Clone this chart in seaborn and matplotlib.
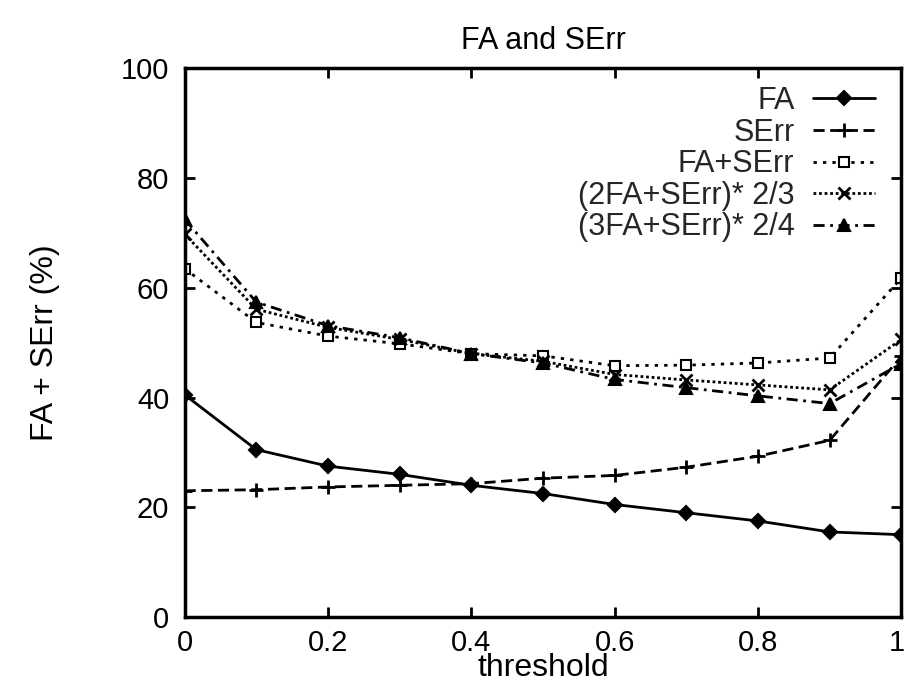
import numpy as np
import pandas as pd
import seaborn as sns
import matplotlib.pyplot as plt
import matplotlib.transforms as mtransforms

threshold = [0.0, 0.1, 0.2, 0.3, 0.4, 0.5, 0.6, 0.7, 0.8, 0.9, 1.0]

fa = [40.5, 30.5, 27.5, 26.0, 24.0, 22.5, 20.5, 19.0, 17.5, 15.5, 15.0]
serr = [23.0, 23.2, 23.7, 24.0, 24.3, 25.3, 25.8, 27.3, 29.3, 32.2, 47.5]
fa_serr = [63.5, 53.7, 51.2, 49.8, 48.0, 47.6, 45.8, 45.9, 46.3, 47.2, 61.8]
fa2_serr = [69.8, 56.1, 52.8, 50.6, 48.0, 46.6, 44.2, 43.2, 42.3, 41.4, 50.6]
fa3_serr = [72.5, 57.4, 53.1, 50.9, 48.0, 46.3, 43.3, 41.8, 40.3, 38.9, 46.2]

labels = ["FA", "SErr", "FA+SErr", "(2FA+SErr)* 2/3", "(3FA+SErr)* 2/4"]
series = [fa, serr, fa_serr, fa2_serr, fa3_serr]

sns.set_theme(style="ticks")
plt.rcParams["font.family"] = ["Liberation Sans", "DejaVu Sans"]

fig = plt.figure(figsize=(9.05, 6.84), dpi=100)
ax = fig.add_axes([0.204, 0.098, 0.792, 0.802])

# marker, linestyle, markersize, fill
styles = [
    ("D", "-", 7, True),
    ("+", (0, (4, 2)), 10, True),
    ("s", (0, (1.2, 2.2)), 7, False),
    ("x", (0, (1, 1)), 8, True),
    ("^", (0, (4, 2, 1, 2)), 8, True),
]

for lab, vals, (mk, ls, ms, filled) in zip(labels, series, styles):
    df = pd.DataFrame({"threshold": threshold, "value": vals})
    sns.lineplot(data=df, x="threshold", y="value", ax=ax, color="black",
                 linestyle=ls, linewidth=2.0, marker=mk, markersize=ms,
                 markerfacecolor="black" if filled else "white",
                 markeredgecolor="black", markeredgewidth=2 if mk in "+x" else 1.5,
                 label=lab)

ax.set_xlim(0, 1)
ax.set_ylim(0, 100)
ax.set_xticks([0, 0.2, 0.4, 0.6, 0.8, 1])
ax.set_xticklabels(["0", "0.2", "0.4", "0.6", "0.8", "1"])
ax.set_yticks([0, 20, 40, 60, 80, 100])
ax.tick_params(direction="in", length=7, width=2, labelsize=21, pad=11,
               top=True, right=True, color="black", labelcolor="black")
ax.tick_params(axis="x", pad=9)
for sp in ax.spines.values():
    sp.set_linewidth(2.5)
    sp.set_color("black")

# nudge the last x label ("1") so it stays inside the figure
last = ax.get_xticklabels()[-1]
last.set_transform(last.get_transform() +
                   mtransforms.ScaledTranslation(-0.05, 0, fig.dpi_scale_trans))

ax.set_xlabel("threshold", fontsize=23, labelpad=-3, color="black")
ax.set_ylabel("FA + SErr (%)", fontsize=23, labelpad=44, color="black")
ax.set_title("FA and SErr", fontsize=22, pad=14, color="black")

leg = ax.legend(loc="upper right", bbox_to_anchor=(1, 1.015), frameon=False,
                markerfirst=False, fontsize=22, handlelength=2.05,
                handletextpad=0.6, labelspacing=0.05, borderaxespad=0.45)
for t in leg.get_texts():
    t.set_ha("right")
leg._legend_box.align = "right"

fig.savefig("out.png", dpi=100)
